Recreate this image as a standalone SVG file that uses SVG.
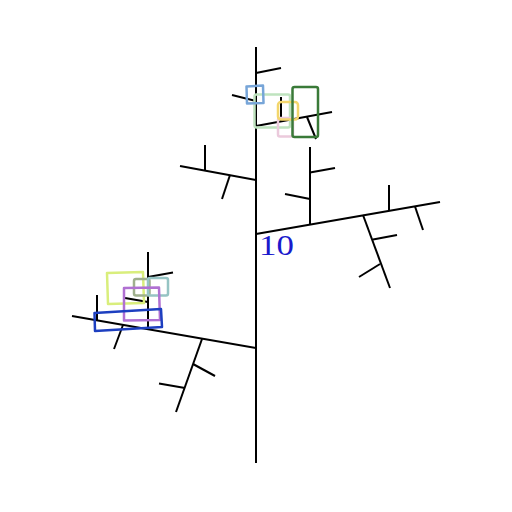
<svg xmlns="http://www.w3.org/2000/svg" width="512" height="512" viewBox="0 0 512 512">
<style>
.b{stroke:#000;stroke-width:2;fill:none;stroke-linecap:butt}
.r{fill:none;stroke-width:2.5;stroke-linejoin:round}
</style>
<rect width="512" height="512" fill="#fff"/>
<g id="tree">
<line class="b" x1="256" y1="463" x2="256" y2="47"/>
<line class="b" x1="256" y1="73" x2="281" y2="68"/>
<line class="b" x1="256" y1="101" x2="232" y2="95"/>
<line class="b" x1="256" y1="126" x2="332" y2="112"/>
<line class="b" x1="281" y1="121.5" x2="281" y2="97"/>
<line class="b" x1="307" y1="117" x2="316" y2="139"/>
<line class="b" x1="256" y1="180" x2="180" y2="166"/>
<line class="b" x1="205" y1="170.5" x2="205" y2="145"/>
<line class="b" x1="230" y1="175" x2="222" y2="199"/>
<line class="b" x1="256" y1="234" x2="440" y2="202"/>
<line class="b" x1="310" y1="224.5" x2="310" y2="147"/>
<line class="b" x1="310" y1="172.5" x2="335" y2="168"/>
<line class="b" x1="310" y1="199" x2="285" y2="194"/>
<line class="b" x1="363" y1="215" x2="390" y2="288"/>
<line class="b" x1="373" y1="239.5" x2="397" y2="235"/>
<line class="b" x1="380" y1="264" x2="359" y2="277"/>
<line class="b" x1="389" y1="211" x2="389" y2="185"/>
<line class="b" x1="415" y1="206.5" x2="423" y2="230"/>
<line class="b" x1="256" y1="348" x2="72" y2="316"/>
<line class="b" x1="202" y1="339" x2="176" y2="412"/>
<line class="b" x1="193" y1="364" x2="215" y2="376"/>
<line class="b" x1="185" y1="388" x2="159" y2="383.5"/>
<line class="b" x1="148" y1="329" x2="148" y2="252"/>
<line class="b" x1="148" y1="277" x2="173" y2="272.5"/>
<line class="b" x1="148" y1="302" x2="125" y2="298"/>
<line class="b" x1="97" y1="320.5" x2="97" y2="295"/>
<line class="b" x1="123" y1="325" x2="114" y2="349"/>
</g>
<g id="boxes-top">
<rect class="r" x="254.5" y="94.5" width="35.5" height="33" rx="2" stroke="#bfe3bf"/>
<rect class="r" x="278" y="118" width="15" height="18.5" rx="2" stroke="#ebcadc"/>
<rect class="r" x="278" y="102" width="20" height="17.5" rx="3" stroke="#f3d66c"/>
<path class="r" d="M246.5,86.5 L263,85.5 L263.5,103 L247,103.5 Z" stroke="#77a5d8"/>
<rect class="r" x="292.5" y="87" width="25.5" height="50" rx="2" stroke="#3a7a38"/>
</g>
<g id="boxes-left">
<path class="r" d="M107,273 L143,272 L144,303 L108,304 Z" stroke="#d9ee7c"/>
<rect class="r" x="134" y="279" width="15.5" height="16.5" rx="2" stroke="#9fb08d"/>
<rect class="r" x="148" y="278" width="20" height="17.5" rx="2" stroke="#96c4c4"/>
<path class="r" d="M124,288 L159,287.5 L160,320 L124,320.5 Z" stroke="#b070d2"/>
<path class="r" d="M94.5,313 L161,309 L162,327 L95,331 Z" stroke="#1d3fc0"/>
</g>
<text transform="translate(259,255) scale(1.2,1)" font-family="'Liberation Serif',serif" font-size="29" fill="#1a1acc">10</text>
</svg>
